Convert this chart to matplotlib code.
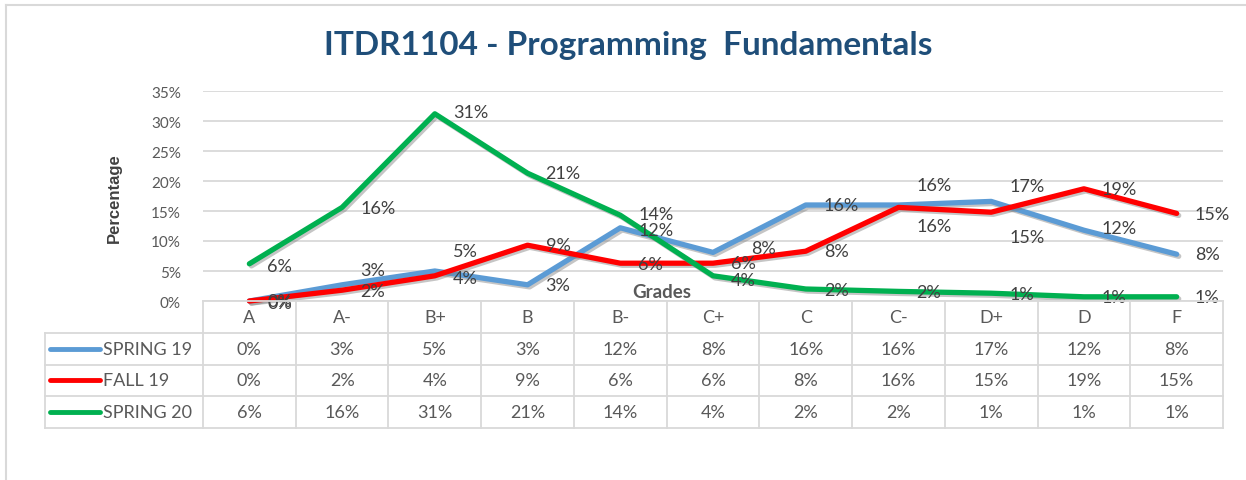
import matplotlib
matplotlib.use("Agg")
import matplotlib.pyplot as plt
import matplotlib.patheffects as pe
from matplotlib.ticker import FuncFormatter

W, H = 1246, 481

grades = ["A", "A-", "B+", "B", "B-", "C+", "C", "C-", "D+", "D", "F"]
series_names = ["SPRING 19", "FALL 19", "SPRING 20"]
spring19 = [0.0, 2.7, 5.0, 2.7, 12.2, 8.1, 16.0, 16.0, 16.6, 11.8, 7.8]
fall19 = [0.0, 1.8, 4.2, 9.3, 6.3, 6.3, 8.3, 15.6, 14.8, 18.7, 14.6]
spring20 = [6.2, 15.6, 31.2, 21.3, 14.3, 4.2, 2.0, 1.6, 1.3, 0.7, 0.7]
colors = ["#5B9BD5", "#FF0000", "#00B050"]

# manual nudges of the data labels (pixels, dx right / dy down), as in the source chart
label_nudge = [
    [(0, 0), (0, -15), (0, -20), (0, 0), (0, 2), (20, -4), (0, 0), (0, -20), (0, -15), (0, -2), (0, 0)],
    [(0, 2), (0, 1), (0, 2), (0, 0), (0, 1), (0, 0), (0, 0), (0, 19), (0, 25), (0, 0), (0, 1)],
    [(0, 2), (0, 1), (0, -2), (0, 0), (0, -1), (0, 4), (0, 1), (0, 1), (0, 1), (0, 0), (0, 0)],
]

TXT = "#595959"
GRID = "#D9D9D9"
FONT = ["Lato", "DejaVu Sans"]


def fx(px):
    return px / W


def fy(py):
    return 1 - py / H


fig = plt.figure(figsize=(W / 100, H / 100), dpi=100)
fig.patch.set_facecolor("white")

# outer chart border (only left and top edges visible)
fig.add_artist(plt.Line2D([fx(6), fx(6)], [fy(6), 0], color="#D9D9D9", lw=1.5))
fig.add_artist(plt.Line2D([fx(6), 1], [fy(6), fy(6)], color="#D9D9D9", lw=1.5))

fig.text(fx(628), fy(46), "ITDR1104 - Programming  Fundamentals", ha="center", va="center",
         fontsize=24, fontweight="bold", color="#1F4E79", family=FONT)

ax = fig.add_axes([fx(203), fy(302), fx(1020), 210 / H])
x = list(range(len(grades)))
all_series = [spring19, fall19, spring20]
for vals, c in zip(all_series, colors):
    ax.plot(x, vals, color=c, lw=3.8, solid_capstyle="round", clip_on=False, zorder=3,
            path_effects=[pe.SimpleLineShadow(offset=(1.5, -1.5), shadow_color="#7f7f7f", alpha=0.45),
                          pe.Normal()])
for vals, nudges in zip(all_series, label_nudge):
    for xi, v, (dx, dy) in zip(x, vals, nudges):
        ax.annotate(f"{v:.0f}%", (xi, v), xytext=((18 + dx) * 0.72, -dy * 0.72),
                    textcoords="offset points", ha="left", va="center", fontsize=13,
                    color="#404040", family=FONT, zorder=5, annotation_clip=False)

ax.set_xlim(-0.5, len(grades) - 0.5)
ax.set_ylim(0, 35)
ax.set_yticks(range(0, 36, 5))
ax.yaxis.set_major_formatter(FuncFormatter(lambda v, p: f"{v:.0f}%"))
ax.set_xticks([])
ax.yaxis.grid(True, color=GRID, lw=1.3, zorder=0)
ax.set_axisbelow(True)
ax.tick_params(axis="y", length=0, pad=16, labelsize=11, labelcolor=TXT)
for lab in ax.get_yticklabels():
    lab.set_family(FONT)
for s in ax.spines.values():
    s.set_visible(False)

fig.text(fx(114), fy(198), "Percentage", rotation=90, ha="center", va="center",
         fontsize=12, fontweight="bold", color="#404040",
         family=["Liberation Sans Narrow", "Liberation Sans"])
fig.text(fx(662), fy(292), "Grades", ha="center", va="center", fontsize=13.5,
         fontweight="bold", color=TXT, family=FONT)

# data table under the plot
col_w = 1020 / len(grades)
x0 = -0.5 - (203 - 45) / col_w
tax = fig.add_axes([fx(45), fy(429), fx(1178), 127 / H])
tax.set_xlim(x0, len(grades) - 0.5)
tax.set_ylim(4, 0)
tax.axis("off")
lk = dict(color=GRID, lw=1.3, clip_on=False)
tax.plot([-0.5, len(grades) - 0.5], [0, 0], **lk)
for r in range(1, 5):
    tax.plot([x0, len(grades) - 0.5], [r, r], **lk)
tax.plot([x0, x0], [1, 4], **lk)
for k in range(len(grades) + 1):
    tax.plot([k - 0.5, k - 0.5], [0, 4], **lk)

for i, g in enumerate(grades):
    tax.text(i, 0.5, g, ha="center", va="center", fontsize=13, color=TXT, family=FONT)
key_l = x0 + 5 / col_w
key_r = x0 + 55 / col_w
for r, (name, vals, c) in enumerate(zip(series_names, all_series, colors), start=1):
    tax.plot([key_l, key_r], [r + 0.5, r + 0.5], color=c, lw=3.5, solid_capstyle="round")
    tax.text(key_r + 3 / col_w, r + 0.5, name, ha="left", va="center", fontsize=13,
             color=TXT, family=FONT)
    for i, v in enumerate(vals):
        tax.text(i, r + 0.5, f"{v:.0f}%", ha="center", va="center", fontsize=13,
                 color=TXT, family=FONT)

fig.savefig("out.png", dpi=100)
